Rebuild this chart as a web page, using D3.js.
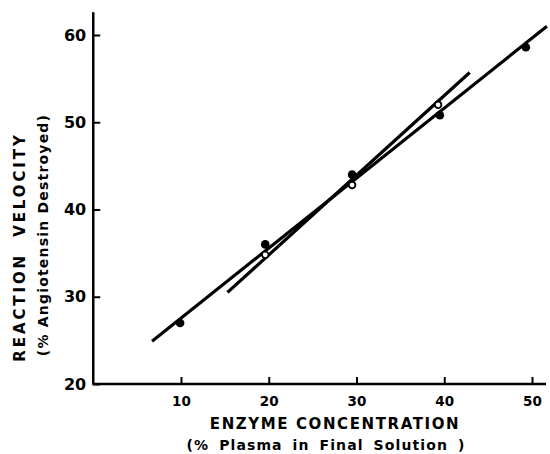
<!DOCTYPE html>
<html>
<head>
<meta charset="utf-8">
<script src="https://cdn.jsdelivr.net/npm/d3@7"></script>
<style>
  body { margin: 0; background: #fff; }
  text { font-family: "DejaVu Sans", sans-serif; font-weight: bold; fill: #000; }
</style>
</head>
<body>
<svg id="chart" width="550" height="454"></svg>
<script>
// data
const xTicks = [10, 20, 30, 40, 50];
const yTicks = [20, 30, 40, 50, 60];

// filled circles
const filledX = [9.9, 19.6, 29.5, 39.5, 49.3];
const filledY = [27.0, 36.0, 44.0, 50.8, 58.6];

// open circles
const openX = [19.6, 29.5, 39.3];
const openY = [34.8, 42.8, 52.0];

// fitted lines (end points)
const longLineX = [6.7, 51.7];
const longLineY = [24.9, 61.0];
const shortLineX = [15.3, 42.9];
const shortLineY = [30.5, 55.7];

const svg = d3.select("#chart");

const x = d3.scaleLinear().domain([0, 50]).range([93.25, 532]);
const y = d3.scaleLinear().domain([20, 60]).range([384, 35]);

// axes, ticks pointing inward
const xAxis = svg.append("g")
  .attr("transform", "translate(0," + y(20) + ")")
  .call(d3.axisBottom(x).tickValues(xTicks).tickSizeInner(-7).tickSizeOuter(0).tickPadding(12));
xAxis.select(".domain").remove();
xAxis.selectAll("line").attr("stroke-width", 2);
xAxis.selectAll("text").attr("font-size", 13.5).attr("font-family", null);

const yAxis = svg.append("g")
  .attr("transform", "translate(" + x(0) + ",0)")
  .call(d3.axisLeft(y).tickValues(yTicks).tickSizeInner(-7).tickSizeOuter(0).tickPadding(7));
yAxis.select(".domain").remove();
yAxis.selectAll("line").attr("stroke-width", 2);
yAxis.selectAll("text").attr("font-size", 16).attr("font-family", null);

// axis lines
svg.append("line")
  .attr("x1", x(0) - 1).attr("x2", x(51.6))
  .attr("y1", y(20)).attr("y2", y(20))
  .attr("stroke", "#000").attr("stroke-width", 2.5);
svg.append("line")
  .attr("x1", x(0)).attr("x2", x(0))
  .attr("y1", y(20)).attr("y2", y(62.6))
  .attr("stroke", "#000").attr("stroke-width", 2.5);

// fitted lines
const line = d3.line().x(d => x(d[0])).y(d => y(d[1]));
[[longLineX, longLineY], [shortLineX, shortLineY]].forEach(([lx, ly]) => {
  svg.append("path")
    .attr("d", line(d3.zip(lx, ly)))
    .attr("fill", "none")
    .attr("stroke", "#000")
    .attr("stroke-width", 3.2);
});

// points
svg.append("g").selectAll("circle")
  .data(d3.zip(openX, openY))
  .join("circle")
  .attr("cx", d => x(d[0]))
  .attr("cy", d => y(d[1]))
  .attr("r", 3.3)
  .attr("fill", "#fff")
  .attr("stroke", "#000")
  .attr("stroke-width", 1.8);

svg.append("g").selectAll("circle")
  .data(d3.zip(filledX, filledY))
  .join("circle")
  .attr("cx", d => x(d[0]))
  .attr("cy", d => y(d[1]))
  .attr("r", 4.3)
  .attr("fill", "#000");

// axis titles
svg.append("text")
  .attr("x", 335).attr("y", 429)
  .attr("text-anchor", "middle")
  .attr("font-size", 15)
  .attr("letter-spacing", 1.6)
  .text("ENZYME CONCENTRATION");
svg.append("text")
  .attr("x", 326).attr("y", 450)
  .attr("text-anchor", "middle")
  .attr("font-size", 14)
  .attr("letter-spacing", 1.1)
  .attr("word-spacing", 4)
  .text("(% Plasma in Final Solution )");

svg.append("text")
  .attr("transform", "translate(25,247) rotate(-90)")
  .attr("text-anchor", "middle")
  .attr("font-size", 15)
  .attr("letter-spacing", 2.9)
  .attr("word-spacing", 8)
  .text("REACTION VELOCITY");
svg.append("text")
  .attr("transform", "translate(48,235) rotate(-90)")
  .attr("text-anchor", "middle")
  .attr("font-size", 14)
  .attr("letter-spacing", 1.2)
  .text("(% Angiotensin Destroyed)");
</script>
</body>
</html>
